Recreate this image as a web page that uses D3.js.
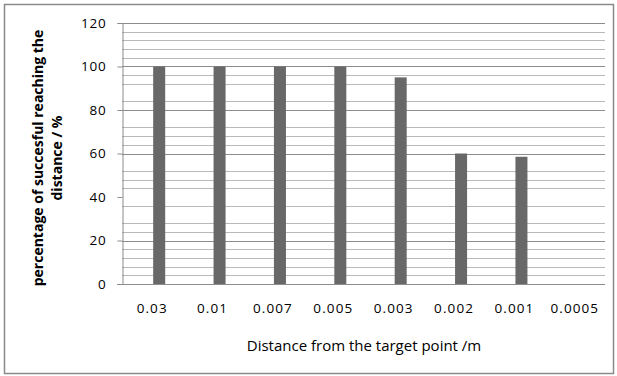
<!DOCTYPE html>
<html>
<head>
<meta charset="utf-8">
<script src="https://cdn.jsdelivr.net/npm/d3@7"></script>
<style>
  body { margin: 0; background: #fff; }
  svg text { font-family: "Open Sans", sans-serif; fill: #000; }
</style>
</head>
<body>
<svg id="chart"></svg>
<script>
const categories = ["0.03", "0.01", "0.007", "0.005", "0.003", "0.002", "0.001", "0.0005"];
const values = [100, 100, 100, 100, 95, 60, 58.5, 0];
const yTicks = [0, 20, 40, 60, 80, 100, 120];
// gridlines as they show in the scanned figure (some faint ones are lost)
const majorGrid = [20, 60, 80, 100, 120];
const minorGrid = [4, 8, 12, 16, 24, 28, 36, 44, 48, 52, 64, 68, 72, 84, 92, 96, 104, 108, 112, 116];
const series = ["empty", "pct"];

const width = 617, height = 376;
const margin = {top: 23, right: 12, bottom: 92, left: 122};

const svg = d3.select("#chart")
    .attr("width", width)
    .attr("height", height);

// outer frame
svg.append("rect")
    .attr("x", 4.5).attr("y", 4.5)
    .attr("width", 609).attr("height", 369)
    .attr("fill", "none")
    .attr("stroke", "#8a8a8a")
    .attr("stroke-width", 1.5);

const x = d3.scaleBand()
    .domain(categories)
    .range([margin.left, width - margin.right]);
const x1 = d3.scaleBand()
    .domain(series)
    .range([-11, 13]);
const y = d3.scaleLinear()
    .domain([0, 120])
    .range([height - margin.bottom, margin.top]);

// gridlines
svg.append("g")
    .selectAll("line")
    .data(minorGrid)
    .join("line")
    .attr("x1", margin.left).attr("x2", width - margin.right)
    .attr("y1", d => Math.round(y(d)) + 0.5).attr("y2", d => Math.round(y(d)) + 0.5)
    .attr("stroke", "#b9b9b9");
svg.append("g")
    .selectAll("line")
    .data(majorGrid)
    .join("line")
    .attr("x1", margin.left).attr("x2", width - margin.right)
    .attr("y1", d => Math.round(y(d)) + 0.5).attr("y2", d => Math.round(y(d)) + 0.5)
    .attr("stroke", "#8c8c8c");

// bars
svg.append("g")
    .selectAll("rect")
    .data(categories.map((c, i) => ({c, v: values[i]})).filter(d => d.v > 0))
    .join("rect")
    .attr("x", d => x(d.c) + x.bandwidth() / 2 + x1("pct"))
    .attr("width", x1.bandwidth())
    .attr("y", d => y(d.v))
    .attr("height", d => y(0) - y(d.v))
    .attr("fill", "#686868");

// y axis
const yAxis = svg.append("g")
    .attr("transform", `translate(${margin.left + 0.5},0)`)
    .call(d3.axisLeft(y).tickValues(yTicks).tickSize(5).tickPadding(11));
yAxis.select(".domain").attr("stroke", "#8c8c8c");
yAxis.selectAll(".tick line").attr("stroke", "#8c8c8c");
yAxis.selectAll(".tick text")
    .style("font-size", "13.5px")
    .style("letter-spacing", "0.8px");

// x axis
const xAxis = svg.append("g")
    .attr("transform", `translate(0,${Math.round(y(0)) + 0.5})`)
    .call(d3.axisBottom(x).tickSize(0).tickPadding(19));
xAxis.select(".domain")
    .attr("stroke", "#8c8c8c")
    .attr("d", `M${margin.left - 5},0H${width - margin.right}`);
xAxis.selectAll(".tick text")
    .style("font-size", "13.5px")
    .style("letter-spacing", "1.1px");

// axis titles
svg.append("text")
    .attr("x", 364).attr("y", 351)
    .attr("text-anchor", "middle")
    .style("font-size", "15px")
    .text("Distance from the target point /m");

svg.append("text")
    .attr("transform", "translate(43,158) rotate(-90)")
    .attr("text-anchor", "middle")
    .style("font-size", "14px")
    .style("font-weight", "bold")
    .text("percentage of succesful reaching the");
svg.append("text")
    .attr("transform", "translate(62,158) rotate(-90)")
    .attr("text-anchor", "middle")
    .style("font-size", "14px")
    .style("font-weight", "bold")
    .text("distance / %");
</script>
</body>
</html>
